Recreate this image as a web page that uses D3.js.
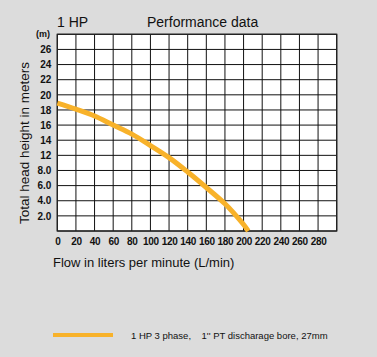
<!DOCTYPE html>
<html><head><meta charset="utf-8">
<script src="https://cdn.jsdelivr.net/npm/d3@7"></script>
<style>
html,body{margin:0;padding:0;background:#dcdcdc;}
svg{display:block;font-family:"Liberation Sans",Arial,sans-serif;}
</style></head>
<body>
<svg id="c" width="377" height="357"></svg>
<script>
const flow = [0, 20, 40, 60, 80, 100, 120, 140, 160, 180, 190, 200, 205];
const head = [18.9, 18.1, 17.2, 16.0, 14.8, 13.3, 11.4, 7.8, 5.75, 3.6, 2.3, 0.85, 0];
const xTicks = [0,20,40,60,80,100,120,140,160,180,200,220,240,260,280];
const yTicks = [2,4,6,8,12,14,16,18,20,22,24,26];
const yTickLabels = ["2.0","4.0","6.0","8.0","12","14","16","18","20","22","24","26"];
const seriesName = "1 HP 3 phase,\u00a0\u00a0\u00a0\u00a01'' PT discharage bore, 27mm";

const svg = d3.select("#c");
const L = 57.3, R = 336.7, T = 34.3, B = 231;
const x = d3.scaleLinear().domain([0,300]).range([L,R]);
const y = d3.scaleLinear().domain([0,8,12,28]).range([B, B - 4*(B-T)/13, B - 5*(B-T)/13, T]);

svg.append("rect").attr("x",L).attr("y",T).attr("width",R-L).attr("height",B-T).attr("fill","#fff");

// grid
const g = svg.append("g");
d3.range(0,301,20).forEach(v=>{
  g.append("line").attr("x1",x(v)).attr("x2",x(v)).attr("y1",T).attr("y2",B)
   .attr("stroke","#111").attr("stroke-width",1);
});
[0,2,4,6,8,12,14,16,18,20,22,24,26,28].forEach(v=>{
  g.append("line").attr("x1",L).attr("x2",R).attr("y1",y(v)).attr("y2",y(v))
   .attr("stroke","#111").attr("stroke-width",1);
});
svg.append("rect").attr("x",L).attr("y",T).attr("width",R-L).attr("height",B-T)
  .attr("fill","none").attr("stroke","#222").attr("stroke-width",1.3);

// axes labels
const xa = svg.append("g").attr("transform",`translate(0,${B})`)
  .call(d3.axisBottom(x).tickValues(xTicks).tickSize(0).tickPadding(7));
xa.select(".domain").remove();
xa.selectAll("text").attr("font-size","10px").attr("fill","#111").attr("font-family","Liberation Sans, Arial, sans-serif").attr("font-weight","bold").style("letter-spacing","-0.3px");

const ya = svg.append("g").attr("transform",`translate(${L},0)`)
  .call(d3.axisLeft(y).tickValues(yTicks).tickSize(0).tickPadding(6)
     .tickFormat((d,i)=>yTickLabels[i]));
ya.select(".domain").remove();
ya.selectAll("text").attr("font-size","10px").attr("fill","#111").attr("font-family","Liberation Sans, Arial, sans-serif").attr("font-weight","bold");

svg.append("text").attr("x",50).attr("y",37).attr("text-anchor","end")
  .attr("font-size","9px").attr("font-weight","bold").attr("fill","#111").text("(m)");

// curve
const line = d3.line().x(d=>x(d[0])).y(d=>y(d[1])).curve(d3.curveCatmullRom.alpha(0.5));
svg.append("path").datum(d3.zip(flow, head)).attr("d",line)
  .attr("fill","none").attr("stroke","#f8b22a").attr("stroke-width",5);

// titles
svg.append("text").attr("x",57).attr("y",27).attr("font-size","14px").attr("fill","#111").text("1 HP");
svg.append("text").attr("x",147).attr("y",27).attr("font-size","14px").attr("fill","#111").text("Performance data");
svg.append("text").attr("transform",`translate(29,143) rotate(-90)`).attr("text-anchor","middle")
  .attr("font-size","13.5px").attr("fill","#111").text("Total head height in meters");
svg.append("text").attr("x",53).attr("y",267).attr("font-size","13px").attr("fill","#111")
  .text("Flow in liters per minute (L/min)");

// legend
svg.append("line").attr("x1",53).attr("x2",113).attr("y1",335).attr("y2",335)
  .attr("stroke","#f8b22a").attr("stroke-width",4);
svg.append("text").attr("x",131).attr("y",339).attr("font-size","9.5px").attr("fill","#111")
  .attr("xml:space","preserve").text(seriesName);
</script>
</body></html>
